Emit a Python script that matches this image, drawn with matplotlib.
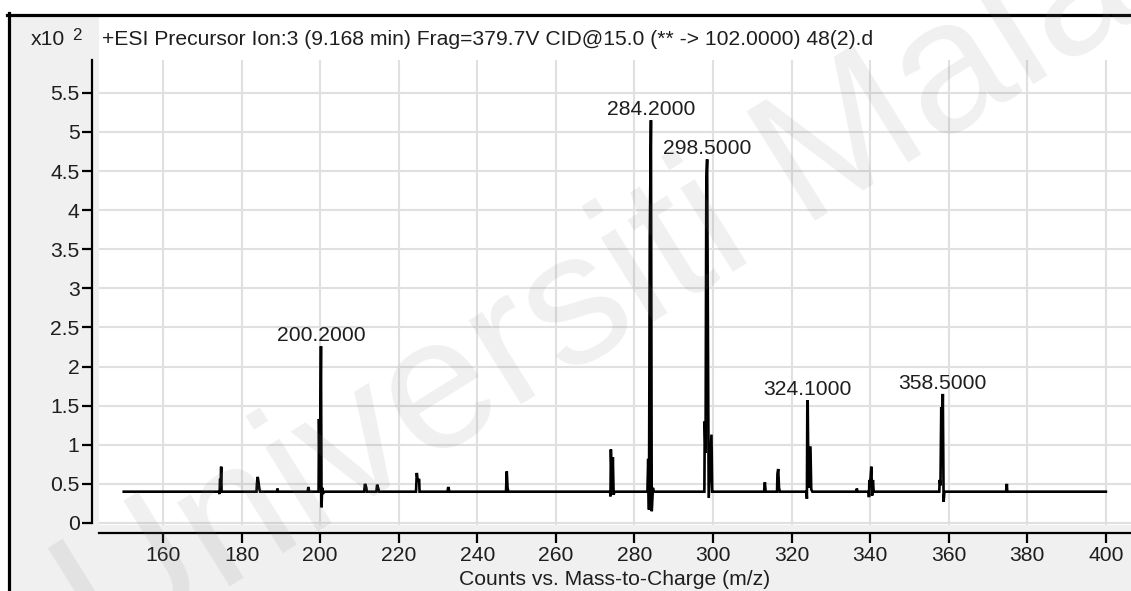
import matplotlib.pyplot as plt
from matplotlib.patches import Rectangle
from matplotlib.lines import Line2D

plt.rcParams['font.family'] = ['Liberation Sans', 'DejaVu Sans']

# Profile spectrum trace (m/z, counts x10^2)
mz = [150.0, 174.2, 174.4, 174.5, 174.7, 174.8, 174.9,
      183.8, 183.9, 184.1, 184.3, 184.5, 184.7,
      189.0, 189.1, 189.3, 196.8, 197.0, 197.2,
      199.6, 199.7, 199.9, 200.2, 200.35, 200.5, 200.7, 200.9,
      211.2, 211.4, 211.7, 211.9, 214.3, 214.5, 214.8, 215.0,
      224.4, 224.6, 224.8, 225.2, 225.3,
      232.4, 232.6, 232.9, 247.3, 247.5, 247.7, 247.9,
      273.8, 273.9, 274.0, 274.3, 274.5, 274.7, 274.9,
      283.3, 283.5, 283.7, 283.9, 284.2, 284.4, 284.7, 284.9,
      297.8, 297.9, 298.1, 298.3, 298.5, 298.9, 299.6, 299.8, 300.0,
      313.0, 313.2, 313.4, 316.3, 316.4, 316.6, 316.8, 317.0,
      323.8, 323.9, 324.0, 324.1, 324.3, 324.8, 325.0, 325.3,
      336.5, 336.6, 336.8,
      339.6, 339.7, 339.8, 340.0, 340.3, 340.5, 340.7, 340.9,
      357.6, 357.7, 357.9, 358.1, 358.3, 358.5, 358.7, 358.9,
      374.6, 374.8, 374.9, 400.0]
counts = [0.40, 0.40, 0.37, 0.55, 0.55, 0.72, 0.40,
          0.40, 0.50, 0.59, 0.52, 0.44, 0.40,
          0.40, 0.44, 0.40, 0.40, 0.46, 0.40,
          0.40, 1.33, 0.45, 2.26, 0.20, 0.45, 0.37, 0.40,
          0.40, 0.50, 0.46, 0.40, 0.40, 0.49, 0.44, 0.40,
          0.40, 0.64, 0.55, 0.55, 0.40,
          0.40, 0.46, 0.40, 0.40, 0.66, 0.45, 0.40,
          0.40, 0.34, 0.94, 0.40, 0.84, 0.36, 0.40,
          0.40, 0.82, 0.17, 3.62, 5.15, 0.15, 0.45, 0.40,
          0.40, 1.30, 0.90, 4.39, 4.65, 0.32, 1.13, 0.40, 0.40,
          0.40, 0.52, 0.40, 0.40, 0.63, 0.69, 0.45, 0.40,
          0.40, 0.31, 1.45, 1.57, 0.45, 0.98, 0.43, 0.40,
          0.40, 0.44, 0.40,
          0.40, 0.33, 0.55, 0.50, 0.72, 0.35, 0.55, 0.40,
          0.40, 0.55, 0.48, 1.48, 0.90, 1.65, 0.27, 0.40,
          0.40, 0.50, 0.40, 0.40]

# Labelled peaks
peak_mz = [200.2, 284.2, 298.5, 324.1, 358.5]
peak_counts = [2.26, 5.15, 4.65, 1.57, 1.65]

x_ticks = list(range(160, 401, 20))
y_ticks = [0, 0.5, 1, 1.5, 2, 2.5, 3, 3.5, 4, 4.5, 5, 5.5]
y_ticklabels = ['0', '0.5', '1', '1.5', '2', '2.5', '3', '3.5', '4', '4.5', '5', '5.5']

title = '+ESI Precursor Ion:3 (9.168 min) Frag=379.7V CID@15.0 (** -> 102.0000) 48(2).d'
xlabel = 'Counts vs. Mass-to-Charge (m/z)'

W, H = 1131, 591
txt = '#1e1e1e'
fs = 15.2

fig = plt.figure(figsize=(W / 100, H / 100), dpi=100, facecolor='white')

def px(x, y):
    return x / W, 1 - y / H

# window panel and frame
fig.patches.append(Rectangle(px(9, H), 1, (H - 16) / H, transform=fig.transFigure,
                             facecolor='#f0f0f0', edgecolor='none', zorder=-3))
fig.patches.append(Rectangle(px(99, 525), 1, (525 - 16) / H, transform=fig.transFigure,
                             facecolor='white', edgecolor='none', zorder=-2))
fig.lines.append(Line2D([7 / W, 1], [1 - 14.5 / H] * 2, transform=fig.transFigure,
                        color='black', lw=2.3))
fig.lines.append(Line2D([8.5 / W] * 2, [0, 1 - 13 / H], transform=fig.transFigure,
                        color='black', lw=2.3))

ax = fig.add_axes([99 / W, (H - 525) / H, (W - 99) / W, (525 - 60) / H])
ax.set_facecolor('white')
ax.plot(mz, counts, color='black', lw=1.9, solid_joinstyle='miter')

for m, c in zip(peak_mz, peak_counts):
    ax.annotate(f'{m:.4f}', (m, c), xytext=(0, 1.0), textcoords='offset points',
                ha='center', va='bottom', fontsize=fs, color=txt)

ax.set_xlim(143.7, 406.4)
ax.set_ylim(-0.026, 5.92)
ax.set_xticks(x_ticks)
ax.set_yticks(y_ticks)
ax.set_yticklabels(y_ticklabels)
ax.grid(True, color='#e0e0e0', lw=1.5)
ax.set_axisbelow(True)

for s in ['top', 'right']:
    ax.spines[s].set_visible(False)
ax.spines['left'].set_position(('outward', 5))
ax.spines['left'].set_bounds(0, 5.92)
ax.spines['bottom'].set_position(('outward', 6))
for s in ['left', 'bottom']:
    ax.spines[s].set_linewidth(1.6)
ax.tick_params(axis='both', length=7, width=1.6, labelsize=fs, labelcolor=txt, pad=2)

ax.set_xlabel(xlabel, fontsize=fs, color=txt, labelpad=4)

fig.text(*px(102, 45), title, fontsize=fs, color=txt, ha='left', va='baseline')
fig.text(*px(31, 45), 'x10', fontsize=fs, color=txt, ha='left', va='baseline')
fig.text(*px(72, 40), '2', fontsize=fs - 3, color=txt, ha='left', va='baseline')

fig.text(0.605, 0.585, 'Universiti Malaya', rotation=32, fontsize=135, color='#808080',
         alpha=0.12, ha='center', va='center', zorder=5)

fig.savefig('out.png', dpi=100, facecolor=fig.get_facecolor())
